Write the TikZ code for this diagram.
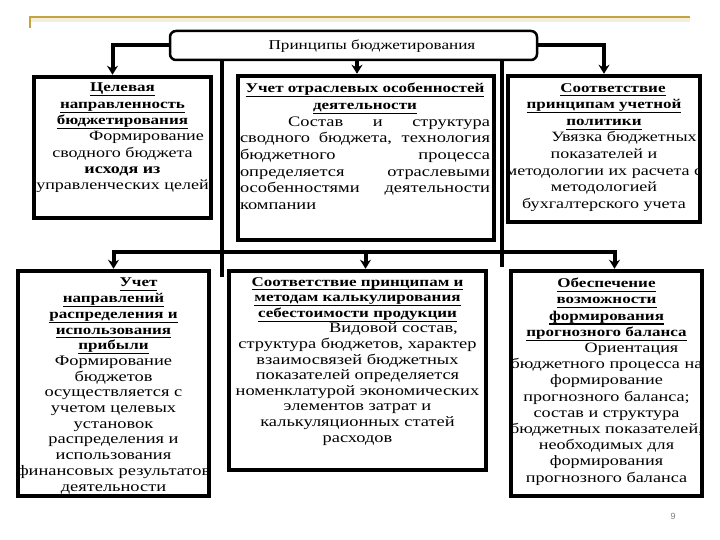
\documentclass[tikz,border=0pt]{standalone}
\usepackage{fontspec}
\setmainfont{Liberation Serif}[FakeStretch=1.27]
\newfontfamily\pagenumfont{Liberation Sans}
\usetikzlibrary{arrows.meta}
\definecolor{gold}{RGB}{196,164,60}
\newcommand{\hd}[1]{\setbox0\hbox{\fontsize{13.4}{16}\selectfont\bfseries #1}\leavevmode\rlap{\rule[-4.4pt]{\wd0}{1.1pt}}\box0}
\newcommand{\jl}[1]{\makebox[250pt][s]{#1}}
\newcommand{\jll}[1]{\makebox[250pt][l]{#1}}
\begin{document}
\begin{tikzpicture}[x=1pt,y=-1pt,
  box/.style={draw, line width=4.5pt, fill=white, inner sep=0pt},
  conn/.style={line width=4pt},
  arr/.style={line width=4pt, -{Stealth[length=9pt,width=11pt]}},
  txt/.style={inner sep=0pt, align=center, anchor=north},
]
\useasboundingbox (0,0) rectangle (720,540);
\fill[white] (0,0) rectangle (720,540);
% decorative top rule
\fill[gold!18] (30,18) rectangle (690,22);
\draw[gold, line width=2pt] (30,28) -- (30,17) -- (690,17);

% title
\node[draw, line width=2.5pt, rounded corners=6pt, minimum width=367pt, minimum height=29pt, fill=white, inner sep=0pt] (t) at (353.5,45.5) {};
\node[inner sep=0pt, font=\fontsize{13.5}{16}\selectfont] (tl) at (372,46) {Принципы бюджетирования};

% boxes
\node[box, minimum width=177pt, minimum height=141pt] (b1) at (122.5,147.5) {};
\node[box, minimum width=256pt, minimum height=164pt] (b2) at (366,158) {};
\node[box, minimum width=192pt, minimum height=146pt] (b3) at (604,149) {};
\node[box, minimum width=191pt, minimum height=225pt] (b4) at (113.5,383.5) {};
\node[box, minimum width=257pt, minimum height=199pt] (b5) at (357.5,370.5) {};
\node[box, minimum width=191pt, minimum height=225pt] (b6) at (606.5,383.5) {};

% connectors from title
\coordinate (a1) at ([xshift=-10pt]b1.north);
\coordinate (a2) at ([xshift=-9pt]b2.north);
\draw[arr] (t.west) -| (a1);
\draw[arr] (t.south -| a2) -- (a2);
\draw[arr] (t.east) -| (b3.north);
\coordinate (v1) at (222,277);
\coordinate (v2) at (502,267);
\draw[conn] (t.south -| v1) -- (v1);
\draw[conn] (t.south -| v2) -- (v2);

% bus to lower row
\coordinate (bus) at (0,252);
\coordinate (a5) at ([xshift=8pt]b5.north);
\coordinate (a6) at ([xshift=8pt]b6.north);
\coordinate (bm) at (a5 |- bus);
\draw[arr] (bm) -| (b4.north);
\draw[arr] (bm) -| (a6);
\draw[arr] (bm) -- (a5);

% texts
\node[txt, font=\fontsize{14.2}{16.3}\selectfont] (x1) at (122.5,83) {\hd{Целевая}\\ \hd{направленность}\\ \hd{бюджетирования}\\ \hspace*{48pt}Формирование\\ сводного бюджета\\ \textbf{исходя из}\\ управленческих целей};

\node[txt, font=\fontsize{14.5}{16.7}\selectfont] (x2) at (365,83) {\hd{Учет отраслевых особенностей}\\ \hd{деятельности}\\ \jl{\hspace*{48pt}Состав и структура}\\ \jl{сводного бюджета, технология}\\ \jl{бюджетного процесса}\\ \jl{определяется отраслевыми}\\ \jl{особенностями деятельности}\\ \jll{компании}};

\node[txt, font=\fontsize{14.2}{16.6}\selectfont] (x3) at (604,83) {\hspace*{18pt}\hd{Соответствие}\\ \hd{принципам учетной}\\ \hd{политики}\\ \hspace*{40pt}Увязка бюджетных\\ показателей и\\ методологии их расчета с\\ методологией\\ бухгалтерского учета};

\node[txt, font=\fontsize{14.5}{15.7}\selectfont] (x4) at (113.5,278) {\hspace*{50pt}\hd{Учет}\\ \hd{направлений}\\ \hd{распределения и}\\ \hd{использования}\\ \hd{прибыли}\\ Формирование\\ бюджетов\\ осуществляется с\\ учетом целевых\\ установок\\ распределения и\\ использования\\ финансовых результатов\\ деятельности};

\node[txt, font=\fontsize{14.5}{15.6}\selectfont] (x5) at (357.5,277) {\hd{Соответствие принципам и}\\ \hd{методам калькулирования}\\ \hd{себестоимости продукции}\\ \hspace*{72pt}Видовой состав,\\ структура бюджетов, характер\\ взаимосвязей бюджетных\\ показателей определяется\\ номенклатурой экономических\\ элементов затрат и\\ калькуляционных статей\\ расходов};

\node[txt, font=\fontsize{14.3}{16.2}\selectfont] (x6) at (606.5,278) {\hd{Обеспечение}\\ \hd{возможности}\\ \hd{формирования}\\ \hd{прогнозного баланса}\\ \hspace*{50pt}Ориентация\\ бюджетного процесса на\\ формирование\\ прогнозного баланса;\\ состав и структура\\ бюджетных показателей,\\ необходимых для\\ формирования\\ прогнозного баланса};

\node[inner sep=0pt, text=gray, font=\pagenumfont\fontsize{9}{9}\selectfont] (pg) at (673,516) {9};
\end{tikzpicture}
\end{document}
